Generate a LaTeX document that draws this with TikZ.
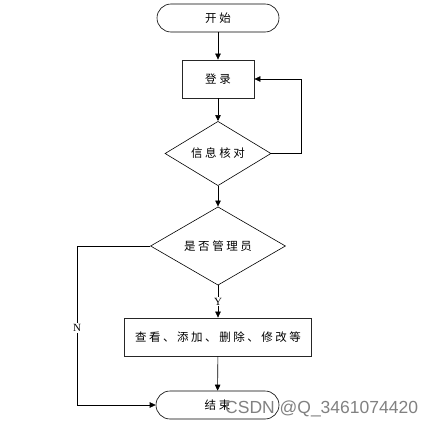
\documentclass[tikz,border=0pt]{standalone}
\usepackage{fontspec}
\setmainfont{Liberation Serif}
\newfontfamily\cjk[LetterSpace=22]{Noto Sans CJK SC}
\newfontfamily\wmfont{Liberation Sans}
\usetikzlibrary{shapes.geometric,arrows.meta}
\begin{document}
\begin{tikzpicture}[x=1pt,y=1pt,
  every node/.style={font=\cjk\fontsize{11.5}{13}\selectfont, inner sep=0pt},
  term/.style={draw, line width=0.6pt, rectangle, rounded corners=14pt, minimum width=122pt, minimum height=28pt},
  proc/.style={draw, line width=0.8pt, draw=black!85, rectangle},
  dec/.style={draw, line width=0.6pt, diamond},
  conn/.style={draw, line width=0.6pt, -{Triangle[length=6pt,width=5.5pt]}},
  lbl/.style={fill=white, font=\fontsize{11}{13}\selectfont, inner sep=1pt}]
\useasboundingbox (0,0) rectangle (437,-428);
\node[term] (start) at (218,-18) {开始};
\node[proc, minimum width=72pt, minimum height=38pt] (login) at (218,-79) {登录};
\node[dec, minimum width=106pt, minimum height=55pt] (check) at (218,-153.5) {信息核对};
\node[dec, minimum width=135pt, minimum height=72pt] (admin) at (218,-246) {是否管理员};
\node[proc, minimum width=187pt, minimum height=38pt] (ops) at (218,-337) {查看、添加、删除、修改等};
\node[term, minimum width=123pt] (finish) at (217.5,-405) {结束};
\coordinate (loopc) at (301,-153.5);
\coordinate (nc) at (77,-246);
\draw[conn] (start) -- (login);
\draw[conn] (login) -- (check);
\draw[conn] (check.east) -- (loopc) |- (login.east);
\draw[conn] (check) -- (admin);
\draw[conn] (admin.south) -- node[lbl] {Y} (ops.north);
\draw[conn] (ops) -- (finish);
\draw[conn] (admin.west) -- (nc) |- node[lbl, pos=0.258] {N} (finish.west);
\node[font=\wmfont\fontsize{17.5}{20}\selectfont, text=black!55, opacity=0.9, anchor=west] (wm) at (225,-409) {CSDN @Q\_3461074420};
\end{tikzpicture}
\end{document}
